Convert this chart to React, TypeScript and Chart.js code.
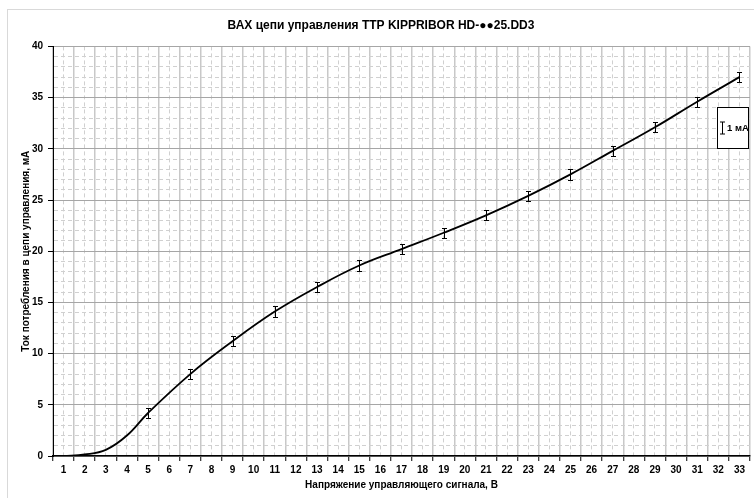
import React, { useEffect, useRef } from 'react';
import { Chart, registerables } from 'chart.js';

Chart.register(...registerables);

// ---- data ----
const titleText = 'ВАХ цепи управления ТТР KIPPRIBOR HD-●●25.DD3';
const xTitle = 'Напряжение управляющего сигнала, В';
const yTitle = 'Ток потребления в цепи управления, мА';
const legendText = '1 мА';

const curveX = [1, 2, 3, 4, 5, 7, 9, 11, 13, 15, 17, 19, 21, 23, 25, 27, 29, 31, 33];
const curveY = [0, 0.15, 0.6, 2.0, 4.2, 8.0, 11.2, 14.1, 16.5, 18.6, 20.2, 21.8, 23.5, 25.4, 27.5, 29.8, 32.1, 34.6, 37.0];

const errX = [5, 7, 9, 11, 13, 15, 17, 19, 21, 23, 25, 27, 29, 31, 33];
const errY = [4.2, 8.0, 11.2, 14.1, 16.5, 18.6, 20.2, 21.8, 23.5, 25.4, 27.5, 29.8, 32.1, 34.6, 37.0];
const errHalf = 0.5;

const xMin = 0.5;
const xMax = 33.5;
const yMin = 0;
const yMax = 40;
const yMajorStep = 5;

const NARROW = "'Liberation Sans Narrow', 'Liberation Sans', Arial, sans-serif";
const SANS = "'Liberation Sans', Arial, sans-serif";

const isInt = (v: number) => Math.abs(v - Math.round(v)) < 1e-9;

const framePlugin = {
  id: 'frame',
  beforeDraw(chart: any) {
    const { ctx, width, height } = chart;
    ctx.save();
    ctx.fillStyle = '#fff';
    ctx.fillRect(0, 0, width, height);
    ctx.strokeStyle = '#d9d9d9';
    ctx.lineWidth = 1;
    ctx.strokeRect(7.5, 9.5, width + 10, height + 10);
    ctx.restore();
  },
};

const errorBarPlugin = {
  id: 'errorBars',
  afterDatasetsDraw(chart: any) {
    const { ctx } = chart;
    const x = chart.scales.x;
    const y = chart.scales.y;
    ctx.save();
    ctx.strokeStyle = '#000';
    ctx.lineWidth = 1;
    errX.forEach((xv, i) => {
      const px = Math.round(x.getPixelForValue(xv)) + 0.5;
      const top = Math.round(y.getPixelForValue(errY[i] + errHalf)) + 0.5;
      const bot = Math.round(y.getPixelForValue(errY[i] - errHalf)) + 0.5;
      ctx.beginPath();
      ctx.moveTo(px, top);
      ctx.lineTo(px, bot);
      ctx.moveTo(px - 2.5, top);
      ctx.lineTo(px + 2.5, top);
      ctx.moveTo(px - 2.5, bot);
      ctx.lineTo(px + 2.5, bot);
      ctx.stroke();
    });
    ctx.restore();
  },
};

const legendBoxPlugin = {
  id: 'legendBox',
  afterDraw(chart: any) {
    const { ctx, chartArea } = chart;
    const w = 31;
    const h = 41;
    const left = Math.round(chartArea.right - w - 2) + 0.5;
    const top = Math.round(chartArea.top + 61) + 0.5;
    ctx.save();
    ctx.fillStyle = '#fff';
    ctx.fillRect(left, top, w, h);
    ctx.strokeStyle = '#000';
    ctx.lineWidth = 1;
    ctx.strokeRect(left, top, w, h);
    const cx = left + 5;
    const cy = top + h / 2;
    ctx.beginPath();
    ctx.moveTo(cx, cy - 6);
    ctx.lineTo(cx, cy + 6);
    ctx.moveTo(cx - 2.5, cy - 6);
    ctx.lineTo(cx + 2.5, cy - 6);
    ctx.moveTo(cx - 2.5, cy + 6);
    ctx.lineTo(cx + 2.5, cy + 6);
    ctx.stroke();
    ctx.fillStyle = '#000';
    ctx.font = `bold 9.5px ${NARROW}`;
    ctx.textBaseline = 'middle';
    ctx.textAlign = 'left';
    ctx.fillText(legendText, cx + 4.5, cy);
    ctx.restore();
  },
};

export default function App() {
  const ref = useRef<HTMLCanvasElement>(null);

  useEffect(() => {
    if (!ref.current) return;
    const chart = new Chart(ref.current, {
      type: 'line',
      data: {
        datasets: [
          {
            data: curveX.map((x, i) => ({ x, y: curveY[i] })),
            borderColor: '#000',
            borderWidth: 1.8,
            pointRadius: 0,
            tension: 0.4,
            fill: false,
          },
        ],
      },
      options: {
        responsive: false,
        animation: false,
        devicePixelRatio: 1,
        layout: { padding: { left: 12, right: 4, top: 0, bottom: 0 } },
        plugins: {
          legend: { display: false },
          tooltip: { enabled: false },
          title: {
            display: true,
            text: titleText,
            color: '#000',
            font: { family: SANS, weight: 'bold', size: 12 },
            padding: { top: 18, bottom: 14 },
          },
        },
        scales: {
          x: {
            type: 'linear',
            min: xMin,
            max: xMax,
            afterFit: (s: any) => {
              s.height = 42;
            },
            ticks: {
              stepSize: 0.5,
              autoSkip: false,
              maxRotation: 0,
              minRotation: 0,
              padding: 3,
              color: '#000',
              font: { family: NARROW, weight: 'bold', size: 10 },
              callback: (v: any) => (isInt(Number(v)) ? String(Math.round(Number(v))) : ''),
            },
            grid: {
              color: (c: any) => (c.tick && isInt(c.tick.value) ? '#d0d0d0' : '#c8c8c8'),
              lineWidth: (c: any) => (c.tick && isInt(c.tick.value) ? 1 : 1.5),
              tickColor: (c: any) => (c.tick && isInt(c.tick.value) ? 'rgba(0,0,0,0)' : '#000'),
              tickLength: 5,
              tickWidth: 1,
            },
            border: {
              display: true,
              color: '#000',
              width: 1.5,
              dash: (c: any) => (c.tick && isInt(c.tick.value) ? [4, 3] : []),
            },
            title: {
              display: true,
              text: xTitle,
              color: '#000',
              font: { family: NARROW, weight: 'bold', size: 10 },
              padding: { top: 0, bottom: 6.6 },
            },
          },
          y: {
            type: 'linear',
            min: yMin,
            max: yMax,
            afterFit: (s: any) => {
              s.width = 41;
            },
            ticks: {
              stepSize: 1,
              autoSkip: false,
              padding: 5,
              color: '#000',
              font: { family: NARROW, weight: 'bold', size: 10 },
              callback: (v: any) => (Number(v) % yMajorStep === 0 ? String(v) : ''),
            },
            grid: {
              color: (c: any) => (c.tick && c.tick.value % yMajorStep === 0 ? '#a6a6a6' : '#d0d0d0'),
              lineWidth: 1,
              tickColor: (c: any) => (c.tick && c.tick.value % yMajorStep === 0 ? '#000' : 'rgba(0,0,0,0)'),
              tickLength: 5,
              tickWidth: 1,
            },
            border: {
              display: true,
              color: '#000',
              width: 1,
              dash: (c: any) => (c.tick && c.tick.value % yMajorStep !== 0 ? [4, 3] : []),
            },
            title: {
              display: true,
              text: yTitle,
              color: '#000',
              font: { family: NARROW, weight: 'bold', size: 10 },
              padding: { top: 8.6, bottom: 0 },
            },
          },
        },
      },
      plugins: [framePlugin, errorBarPlugin, legendBoxPlugin],
    } as any);
    return () => chart.destroy();
  }, []);

  return (
    <div style={{ position: 'fixed', left: 0, top: 0, width: 754, height: 498, background: '#fff' }}>
      <canvas ref={ref} width={754} height={498} style={{ display: 'block', width: 754, height: 498 }} />
    </div>
  );
}
